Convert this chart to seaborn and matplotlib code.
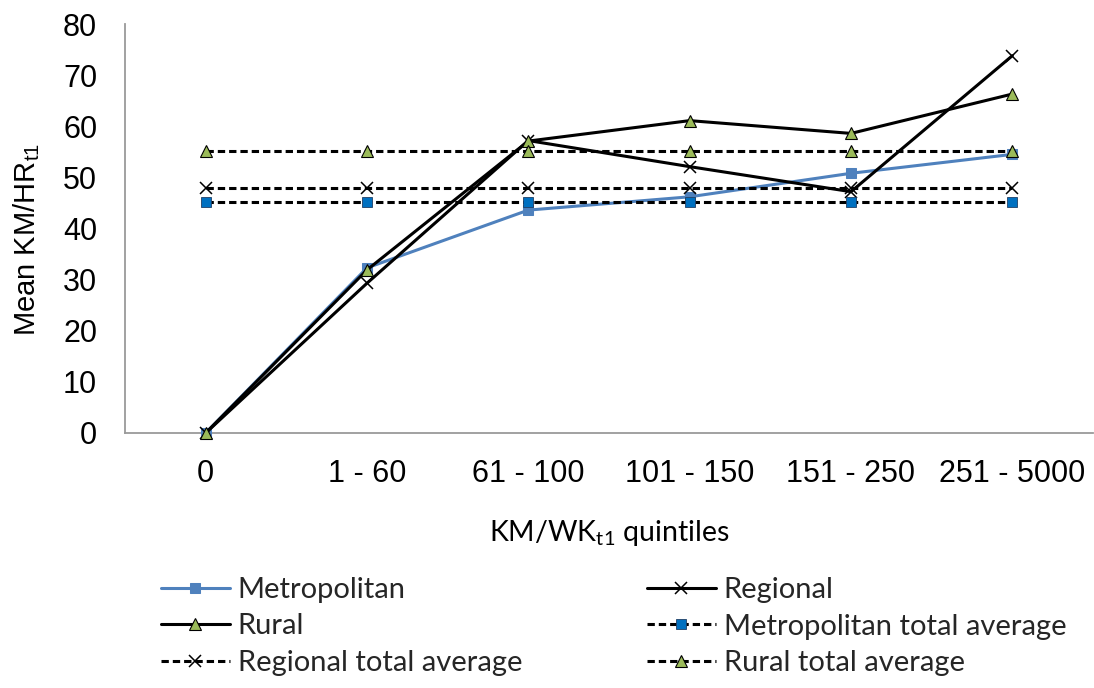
import matplotlib
matplotlib.use("Agg")
import matplotlib.pyplot as plt
import seaborn as sns
import pandas as pd

# ---- data ----
categories = ["0", "1 - 60", "61 - 100", "101 - 150", "151 - 250", "251 - 5000"]
metropolitan = [0.0, 32.3, 43.6, 46.2, 50.8, 54.5]
regional = [0.0, 29.3, 57.2, 52.1, 47.2, 73.8]
rural = [0.0, 31.9, 57.1, 61.1, 58.6, 66.3]
metropolitan_avg = [45.1, 45.1, 45.1, 45.1, 45.1, 45.1]
regional_avg = [47.9, 47.9, 47.9, 47.9, 47.9, 47.9]
rural_avg = [55.2, 55.2, 55.2, 55.2, 55.2, 55.2]
y_ticks = [0, 10, 20, 30, 40, 50, 60, 70, 80]

sns.set_style("white")
plt.rcParams["font.family"] = ["Liberation Sans", "DejaVu Sans"]
plt.rcParams["mathtext.fontset"] = "custom"
plt.rcParams["mathtext.rm"] = "Liberation Sans"
plt.rcParams["mathtext.sf"] = "Lato"

W, H = 1094, 688
fig = plt.figure(figsize=(W / 100, H / 100), dpi=100)
ax = fig.add_axes([125 / W, 1 - 433 / H, 968 / W, 409 / H])

df = pd.DataFrame({"cat": categories, "metro": metropolitan, "regional": regional,
                   "rural": rural, "metro_avg": metropolitan_avg,
                   "regional_avg": regional_avg, "rural_avg": rural_avg})

dash = (0, (2.4, 1.3))
series = [
    ("metro", "Metropolitan", dict(color="#4F81BD", marker="s", markersize=7,
                                   markerfacecolor="#4F81BD", markeredgecolor="#4F81BD",
                                   linestyle="-", linewidth=2.2, zorder=3)),
    ("regional", "Regional", dict(color="black", marker="x", markersize=8,
                                  markeredgecolor="black",
                                  markeredgewidth=1.1, linestyle="-", linewidth=2.2, zorder=4)),
    ("rural", "Rural", dict(color="black", marker="^", markersize=8,
                            markerfacecolor="#9BBB59", markeredgecolor="black",
                            markeredgewidth=0.8, linestyle="-", linewidth=2.2, zorder=5)),
    ("metro_avg", "Metropolitan total average", dict(color="black", marker="s", markersize=7,
                                                     markerfacecolor="#0070C0", markeredgecolor="#1F3F66",
                                                     markeredgewidth=0.6, linestyle=dash, linewidth=2.2, zorder=6)),
    ("regional_avg", "Regional total average", dict(color="black", marker="x", markersize=8,
                                                    markeredgecolor="black",
                                                    markeredgewidth=1.1, linestyle=dash, linewidth=2.2, zorder=6)),
    ("rural_avg", "Rural total average", dict(color="black", marker="^", markersize=8,
                                              markerfacecolor="#9BBB59", markeredgecolor="black",
                                              markeredgewidth=0.8, linestyle=dash, linewidth=2.2, zorder=6)),
]

handles = {}
for col, lab, kw in series:
    n_before = len(ax.lines)
    sns.lineplot(data=df, x="cat", y=col, ax=ax, sort=False, legend=False,
                 clip_on=False, **kw)
    handles[lab] = ax.lines[n_before]

ax.set_xlim(-0.5, len(categories) - 0.5)
ax.set_ylim(0, 80)
ax.set_yticks(y_ticks)
ax.set_yticklabels([str(v) for v in y_ticks])
for s in ["top", "right"]:
    ax.spines[s].set_visible(False)
for s in ["left", "bottom"]:
    ax.spines[s].set_color("#9A9A9A")
    ax.spines[s].set_linewidth(1.3)
ax.tick_params(axis="both", length=0, labelsize=22, labelcolor="black")
ax.tick_params(axis="y", pad=20)
ax.tick_params(axis="x", pad=19)

ax.set_ylabel(r"Mean KM/HR$_{\mathrm{t1}}$", fontsize=21, color="black")
ax.yaxis.set_label_coords(-0.086, 0.472)
ax.set_xlabel(r"KM/WK$_{\mathsf{t1}}$ quintiles", fontsize=20.5, family="Lato", color="black")
ax.xaxis.set_label_coords(0.5, -(541 - 433) / 409)
ax.xaxis.label.set_va("baseline")

leg_kw = dict(loc="upper left", frameon=False, borderpad=0, borderaxespad=0,
              handlelength=2.36, handletextpad=0.27, labelspacing=0.36,
              prop={"family": "Lato", "size": 21})
col1 = ["Metropolitan", "Rural", "Regional total average"]
col2 = ["Regional", "Metropolitan total average", "Rural total average"]
fig.legend([handles[l] for l in col1], col1, bbox_to_anchor=(161 / W, 1 - 577 / H), **leg_kw)
fig.legend([handles[l] for l in col2], col2, bbox_to_anchor=(647 / W, 1 - 577 / H), **leg_kw)

fig.savefig("out.png", dpi=100)
